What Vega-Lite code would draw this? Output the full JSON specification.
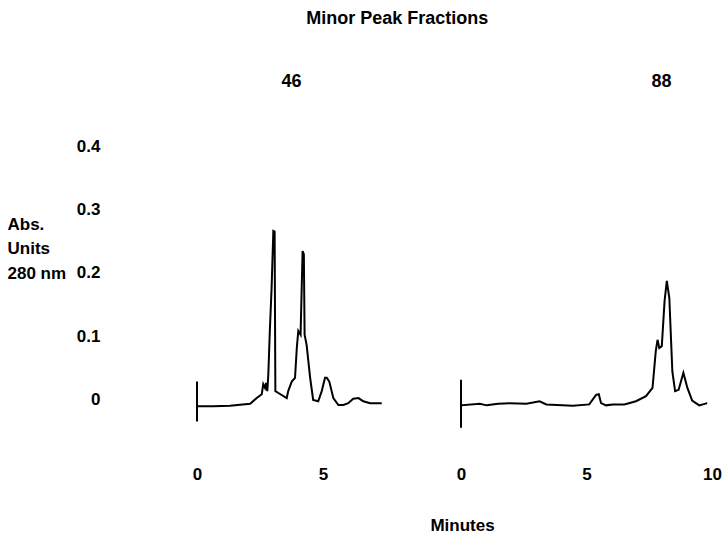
{
  "$schema": "https://vega.github.io/schema/vega-lite/v6.json",
  "padding": {"left": 7, "top": 10, "right": 0, "bottom": 0},
  "background": "white",
  "title": {"text": "Minor Peak Fractions", "anchor": "middle", "dx": 33, "offset": 31, "baseline": "alphabetic", "fontSize": 18, "font": "Liberation Sans", "fontWeight": "bold", "color": "black"},
  "datasets": {
    "f46": [
      {"i": 0, "t": 0, "v": 0.028},
      {"i": 1, "t": 0, "v": -0.035},
      {"i": 2, "t": 0, "v": -0.011},
      {"i": 3, "t": 0.65, "v": -0.011},
      {"i": 4, "t": 1.31, "v": -0.010},
      {"i": 5, "t": 2.11, "v": -0.007},
      {"i": 6, "t": 2.37, "v": 0.002},
      {"i": 7, "t": 2.57, "v": 0.008},
      {"i": 8, "t": 2.63, "v": 0.024},
      {"i": 9, "t": 2.70, "v": 0.018},
      {"i": 10, "t": 2.74, "v": 0.026},
      {"i": 11, "t": 2.79, "v": 0.013},
      {"i": 12, "t": 2.83, "v": 0.039},
      {"i": 13, "t": 2.89, "v": 0.108},
      {"i": 14, "t": 2.96, "v": 0.176},
      {"i": 15, "t": 3.03, "v": 0.266},
      {"i": 16, "t": 3.08, "v": 0.265},
      {"i": 17, "t": 3.11, "v": 0.013},
      {"i": 18, "t": 3.23, "v": 0.010},
      {"i": 19, "t": 3.56, "v": 0.002},
      {"i": 20, "t": 3.62, "v": 0.013},
      {"i": 21, "t": 3.76, "v": 0.028},
      {"i": 22, "t": 3.89, "v": 0.034},
      {"i": 23, "t": 3.96, "v": 0.081},
      {"i": 24, "t": 4.02, "v": 0.108},
      {"i": 25, "t": 4.11, "v": 0.102},
      {"i": 26, "t": 4.19, "v": 0.234},
      {"i": 27, "t": 4.24, "v": 0.229},
      {"i": 28, "t": 4.27, "v": 0.102},
      {"i": 29, "t": 4.35, "v": 0.086},
      {"i": 30, "t": 4.49, "v": 0.034},
      {"i": 31, "t": 4.61, "v": -0.001},
      {"i": 32, "t": 4.81, "v": -0.003},
      {"i": 33, "t": 4.95, "v": 0.013},
      {"i": 34, "t": 5.08, "v": 0.034},
      {"i": 35, "t": 5.15, "v": 0.034},
      {"i": 36, "t": 5.25, "v": 0.028},
      {"i": 37, "t": 5.41, "v": 0.002},
      {"i": 38, "t": 5.61, "v": -0.009},
      {"i": 39, "t": 5.81, "v": -0.009},
      {"i": 40, "t": 6.00, "v": -0.006},
      {"i": 41, "t": 6.20, "v": 0.001},
      {"i": 42, "t": 6.41, "v": 0.002},
      {"i": 43, "t": 6.60, "v": -0.003},
      {"i": 44, "t": 6.87, "v": -0.006},
      {"i": 45, "t": 7.33, "v": -0.006}
    ],
    "f88": [
      {"i": 0, "t": 0, "v": 0.031},
      {"i": 1, "t": 0, "v": -0.045},
      {"i": 2, "t": 0, "v": -0.0095},
      {"i": 3, "t": 0.75, "v": -0.007},
      {"i": 4, "t": 1.02, "v": -0.0095},
      {"i": 5, "t": 1.48, "v": -0.007},
      {"i": 6, "t": 1.94, "v": -0.006},
      {"i": 7, "t": 2.61, "v": -0.007},
      {"i": 8, "t": 3.13, "v": -0.003},
      {"i": 9, "t": 3.40, "v": -0.008},
      {"i": 10, "t": 4.46, "v": -0.010},
      {"i": 11, "t": 5.11, "v": -0.008},
      {"i": 12, "t": 5.38, "v": 0.007},
      {"i": 13, "t": 5.49, "v": 0.008},
      {"i": 14, "t": 5.58, "v": -0.006},
      {"i": 15, "t": 5.78, "v": -0.0095},
      {"i": 16, "t": 6.04, "v": -0.008},
      {"i": 17, "t": 6.51, "v": -0.008},
      {"i": 18, "t": 6.97, "v": -0.003},
      {"i": 19, "t": 7.37, "v": 0.005},
      {"i": 20, "t": 7.63, "v": 0.018},
      {"i": 21, "t": 7.76, "v": 0.076},
      {"i": 22, "t": 7.83, "v": 0.094},
      {"i": 23, "t": 7.90, "v": 0.081},
      {"i": 24, "t": 8.00, "v": 0.084},
      {"i": 25, "t": 8.11, "v": 0.155},
      {"i": 26, "t": 8.20, "v": 0.187},
      {"i": 27, "t": 8.30, "v": 0.160},
      {"i": 28, "t": 8.42, "v": 0.044},
      {"i": 29, "t": 8.53, "v": 0.013},
      {"i": 30, "t": 8.67, "v": 0.015},
      {"i": 31, "t": 8.86, "v": 0.042},
      {"i": 32, "t": 9.02, "v": 0.018},
      {"i": 33, "t": 9.21, "v": -0.002},
      {"i": 34, "t": 9.49, "v": -0.0095},
      {"i": 35, "t": 9.81, "v": -0.006}
    ]
  },
  "spacing": 75,
  "bounds": "flush",
  "hconcat": [
    {
      "width": 189,
      "height": 285,
      "data": {"name": "f46"},
      "title": {"text": "46", "frame": "group", "anchor": "middle", "offset": 32, "baseline": "alphabetic"},
      "mark": {"type": "line", "color": "black", "strokeWidth": 2, "clip": false},
      "encoding": {
        "x": {"field": "t", "type": "quantitative", "scale": {"domain": [0, 7.5], "nice": false, "zero": false},
          "axis": {"values": [0, 5], "labelPadding": 35, "labelFlush": false, "format": "d",
            "title": "Minutes", "titleX": 265, "titleY": 99, "titleAlign": "center", "titleBaseline": "alphabetic"}},
        "y": {"field": "v", "type": "quantitative", "scale": {"domain": [-0.05, 0.4], "nice": false, "zero": false},
          "axis": {"values": [0, 0.1, 0.2, 0.3, 0.4], "labelExpr": "datum.value == 0 ? '0' : format(datum.value, '.1f')", "labelPadding": 97,
            "title": ["Abs.", "Units", "280 nm"], "titleAngle": 0, "titleX": -190, "titleY": 70, "titleAlign": "left", "titleBaseline": "top", "titleLineHeight": 24.5}},
        "order": {"field": "i", "type": "quantitative"}
      }
    },
    {
      "width": 251,
      "height": 285,
      "data": {"name": "f88"},
      "title": {"text": "88", "frame": "group", "anchor": "middle", "dx": 75, "offset": 41, "baseline": "alphabetic"},
      "mark": {"type": "line", "color": "black", "strokeWidth": 2, "clip": false},
      "encoding": {
        "x": {"field": "t", "type": "quantitative", "scale": {"domain": [0, 10], "nice": false, "zero": false},
          "axis": {"values": [0, 5, 10], "labelPadding": 35, "labelFlush": false, "format": "d", "title": null}},
        "y": {"field": "v", "type": "quantitative", "scale": {"domain": [-0.05, 0.4], "nice": false, "zero": false}, "axis": null},
        "order": {"field": "i", "type": "quantitative"}
      }
    }
  ],
  "config": {
    "view": {"stroke": null},
    "font": "Liberation Sans",
    "axis": {"grid": false, "domain": false, "ticks": false, "labelFont": "Liberation Sans", "labelFontWeight": "bold", "labelFontSize": 17, "labelColor": "black",
      "titleFont": "Liberation Sans", "titleFontWeight": "bold", "titleFontSize": 17, "titleColor": "black"},
    "title": {"font": "Liberation Sans", "fontWeight": "bold", "fontSize": 18, "color": "black"}
  }
}
